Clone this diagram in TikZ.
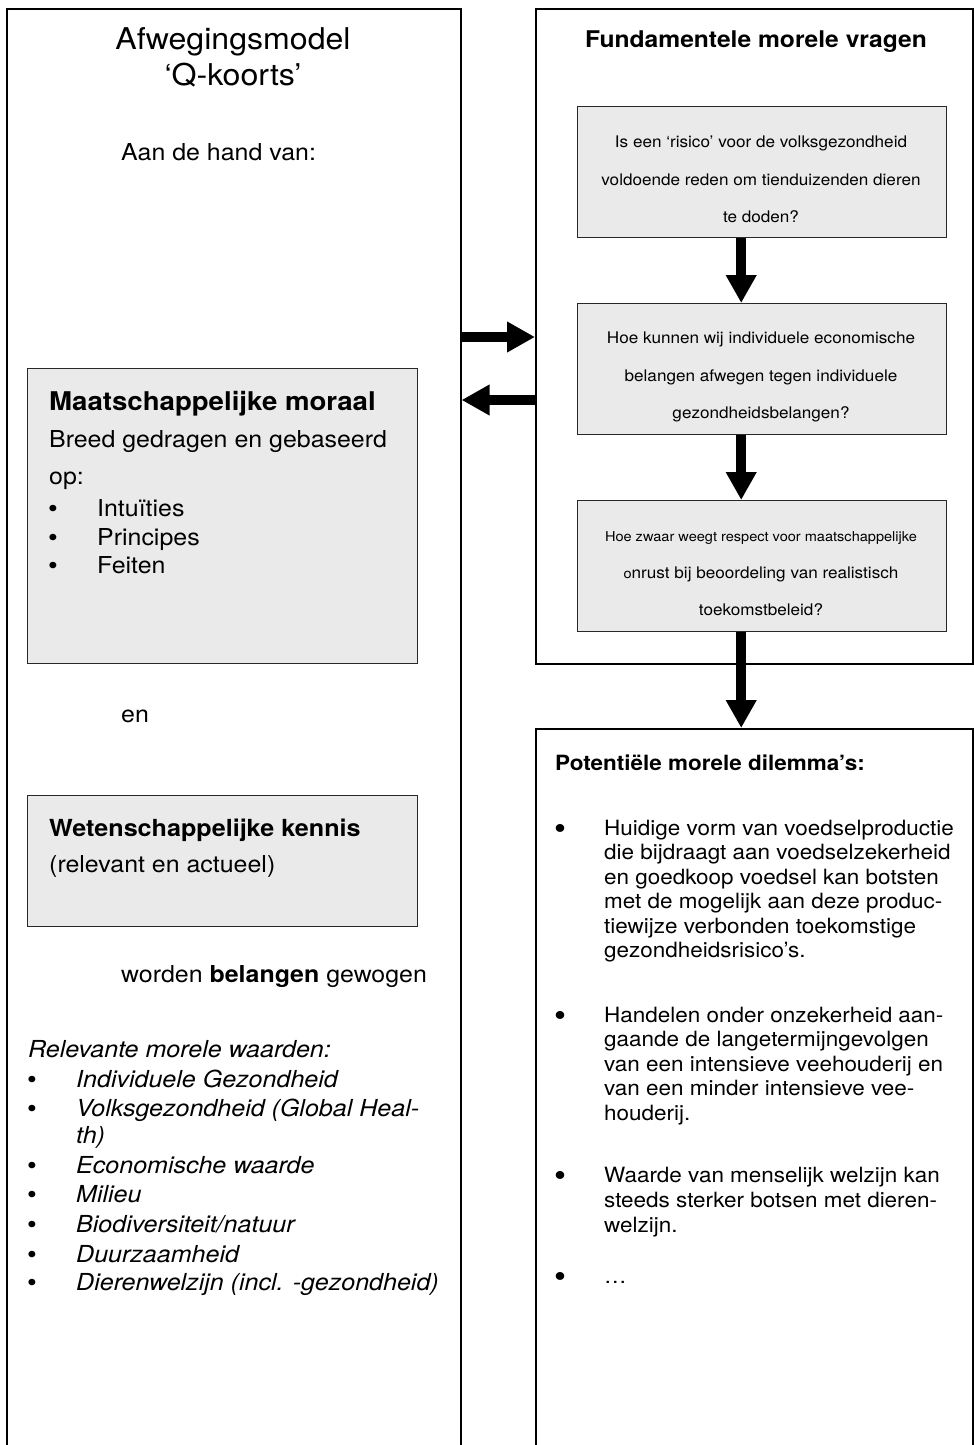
\documentclass[tikz,border=0pt]{standalone}
\usepackage{fontspec}
\setmainfont{TeX Gyre Heros}[FakeStretch=1.07]
\usepackage{tikz}
\usetikzlibrary{arrows.meta}
\definecolor{boxgrey}{RGB}{234,234,234}
\definecolor{boxline}{RGB}{40,40,40}
\newcommand{\fs}[1]{\fontsize{#1}{#1}\selectfont}

\begin{document}
\begin{tikzpicture}[x=1pt,y=1pt,yscale=-1,
  frame/.style={draw, line width=1.6pt, inner sep=0pt, anchor=north west},
  greybox/.style={draw=boxline, line width=1.4pt, fill=boxgrey, inner sep=0pt, anchor=north west},
  blockarrow/.style={line width=10pt, -{Triangle[width=29pt,length=28pt]}},
  txt/.style={anchor=base west, inner sep=0pt},
  ctxt/.style={anchor=base, inner sep=0pt},
  bul/.style={anchor=base west, inner sep=0pt, font=\fs{26}, yshift=-1pt},
  bigbul/.style={anchor=base west, inner sep=0pt, font=\fs{32}, yshift=-4pt}]
\fill[white] (0,0) rectangle (974,1445);
\useasboundingbox (0,0) rectangle (974,1445);

%Shape: Rectangle (left frame, open at the bottom)
\node[frame, minimum width=454pt, minimum height=1480pt] (afweging) at (6,8) {};
%Shape: Rectangle (questions frame)
\node[frame, minimum width=437pt, minimum height=655pt] (vragen) at (535,8) {};
%Shape: Rectangle (dilemma frame)
\node[frame, minimum width=437pt, minimum height=760pt] (dilemma) at (535,728) {};

%Shape: Rectangle
\node[greybox, minimum width=390pt, minimum height=295pt] (moraal) at (27,368) {};
%Shape: Rectangle
\node[greybox, minimum width=390pt, minimum height=131pt] (kennis) at (27,795) {};
%Shape: Rectangle
\node[greybox, minimum width=369pt, minimum height=131pt] (vraag1) at (577,106) {};
%Shape: Rectangle
\node[greybox, minimum width=369pt, minimum height=131pt] (vraag2) at (577,303) {};
%Shape: Rectangle
\node[greybox, minimum width=369pt, minimum height=131pt] (vraag3) at (577,500) {};

%Arrows
\draw[blockarrow] ([xshift=-21pt]vraag1.south) -- ([xshift=-21pt]vraag2.north);
\draw[blockarrow] ([xshift=-21pt]vraag2.south) -- ([xshift=-21pt]vraag3.north);
\draw[blockarrow] ([xshift=-21pt]vraag3.south) -- ([xshift=-21pt]vraag3.south |- dilemma.north);
\draw[blockarrow] (afweging.east |- 0,337) -- (vragen.west |- 0,337);
\draw[blockarrow] (vragen.west |- 0,400) -- (afweging.east |- 0,400);

% Text Node
\node[ctxt, font=\fs{30}] (titel1) at (233,50) {Afwegingsmodel};
% Text Node
\node[ctxt, font=\fs{30}] (titel2) at (233,85) {‘Q-koorts’};
% Text Node
\node[txt, font=\fs{23.3}] (aanhand) at (121,160) {Aan de hand van:};
% Text Node
\node[txt, font=\fs{25.8}\bfseries] (moraalkop) at (49,410) {Maatschappelijke moraal};
% Text Node
\node[txt, font=\fs{23.3}] (breed) at (49,447) {Breed gedragen en gebaseerd};
% Text Node
\node[txt, font=\fs{23.3}] (op) at (49,484) {op:};
% Text Node
\node[bul] (b1) at (48,516) {•};
\node[txt, font=\fs{23.3}] (intuities) at (97,516) {Intuïties};
% Text Node
\node[bul] (b2) at (48,545) {•};
\node[txt, font=\fs{23.3}] (principes) at (97,545) {Principes};
% Text Node
\node[bul] (b3) at (48,573) {•};
\node[txt, font=\fs{23.3}] (feiten) at (97,573) {Feiten};
% Text Node
\node[txt, font=\fs{23.3}] (en) at (121,722) {en};
% Text Node
\node[txt, font=\fs{23.5}\bfseries] (kenniskop) at (49,836) {Wetenschappelijke kennis};
% Text Node
\node[txt, font=\fs{23.3}] (relevant) at (49,872) {(relevant en actueel)};
% Text Node
\node[txt, font=\fs{23.3}] (gewogen) at (121,982) {worden \textbf{belangen} gewogen};
% Text Node
\node[txt, font=\fs{23.4}\itshape] (waarden) at (28,1057) {Relevante morele waarden:};
% Text Node
\node[bul] (w1) at (27,1087) {•};
\node[txt, font=\fs{23.4}\itshape] (gezond) at (76,1087) {Individuele Gezondheid};
% Text Node
\node[bul] (w2) at (27,1116) {•};
\node[txt, font=\fs{23.4}\itshape] (volks) at (76,1116) {Volksgezondheid (Global Heal-};
\node[txt, font=\fs{23.4}\itshape] (volksb) at (76,1143) {th)};
% Text Node
\node[bul] (w3) at (27,1173) {•};
\node[txt, font=\fs{23.4}\itshape] (econ) at (76,1173) {Economische waarde};
% Text Node
\node[bul] (w4) at (27,1202) {•};
\node[txt, font=\fs{23.4}\itshape] (milieu) at (76,1202) {Milieu};
% Text Node
\node[bul] (w5) at (27,1232) {•};
\node[txt, font=\fs{23.4}\itshape] (bio) at (76,1232) {Biodiversiteit/natuur};
% Text Node
\node[bul] (w6) at (27,1262) {•};
\node[txt, font=\fs{23.4}\itshape] (duur) at (76,1262) {Duurzaamheid};
% Text Node
\node[bul] (w7) at (27,1290) {•};
\node[txt, font=\fs{23.4}\itshape] (dieren) at (76,1290) {Dierenwelzijn (incl. -gezondheid)};

% Text Node
\node[ctxt, font=\fs{23}\bfseries] (vragenkop) at (756,48) {Fundamentele morele vragen};
% Text Node
\node[ctxt, font=\fs{16}] (v1a) at (761,147) {Is een ‘risico’ voor de volksgezondheid};
\node[ctxt, font=\fs{16}] (v1b) at (761,185) {voldoende reden om tienduizenden dieren};
\node[ctxt, font=\fs{16}] (v1c) at (761,222) {te doden?};
% Text Node
\node[ctxt, font=\fs{16}] (v2a) at (761,343) {Hoe kunnen wij individuele economische};
\node[ctxt, font=\fs{16}] (v2b) at (761,381) {belangen afwegen tegen individuele};
\node[ctxt, font=\fs{16}] (v2c) at (761,418) {gezondheidsbelangen?};
% Text Node
\node[ctxt, font=\fs{13.6}] (v3a) at (761,541) {Hoe zwaar weegt respect voor maatschappelijke};
\node[ctxt, font=\fs{16}] (v3b) at (761,578) {{\fs{13.6}o}nrust bij beoordeling van realistisch};
\node[ctxt, font=\fs{16}] (v3c) at (761,615) {toekomstbeleid?};

% Text Node
\node[txt, font=\fs{21}\bfseries] (dilemmakop) at (555,770) {Potentiële morele dilemma’s:};
% Text Node
\node[bigbul] (d1) at (554,835) {•};
\node[txt, font=\fs{21}] (d1a) at (604,835) {Huidige vorm van voedselproductie};
\node[txt, font=\fs{21}] (d1b) at (604,859.5) {die bijdraagt aan voedselzekerheid};
\node[txt, font=\fs{21}] (d1c) at (604,884) {en goedkoop voedsel kan botsten};
\node[txt, font=\fs{21}] (d1d) at (604,908.5) {met de mogelijk aan deze produc-};
\node[txt, font=\fs{21}] (d1e) at (604,933) {tiewijze verbonden toekomstige};
\node[txt, font=\fs{21}] (d1f) at (604,957.5) {gezondheidsrisico’s.};
% Text Node
\node[bigbul] (d2) at (554,1022) {•};
\node[txt, font=\fs{21}] (d2a) at (604,1022) {Handelen onder onzekerheid aan-};
\node[txt, font=\fs{21}] (d2b) at (604,1046.5) {gaande de langetermijngevolgen};
\node[txt, font=\fs{21}] (d2c) at (604,1071) {van een intensieve veehouderij en};
\node[txt, font=\fs{21}] (d2d) at (604,1095.5) {van een minder intensieve vee-};
\node[txt, font=\fs{21}] (d2e) at (604,1120) {houderij.};
% Text Node
\node[bigbul] (d3) at (554,1182) {•};
\node[txt, font=\fs{21}] (d3a) at (604,1182) {Waarde van menselijk welzijn kan};
\node[txt, font=\fs{21}] (d3b) at (604,1207) {steeds sterker botsen met dieren-};
\node[txt, font=\fs{21}] (d3c) at (604,1232) {welzijn.};
% Text Node
\node[bigbul] (d4) at (554,1283) {•};
\node[txt, font=\fs{21}] (d4a) at (604,1283) {…};

\end{tikzpicture}
\end{document}
